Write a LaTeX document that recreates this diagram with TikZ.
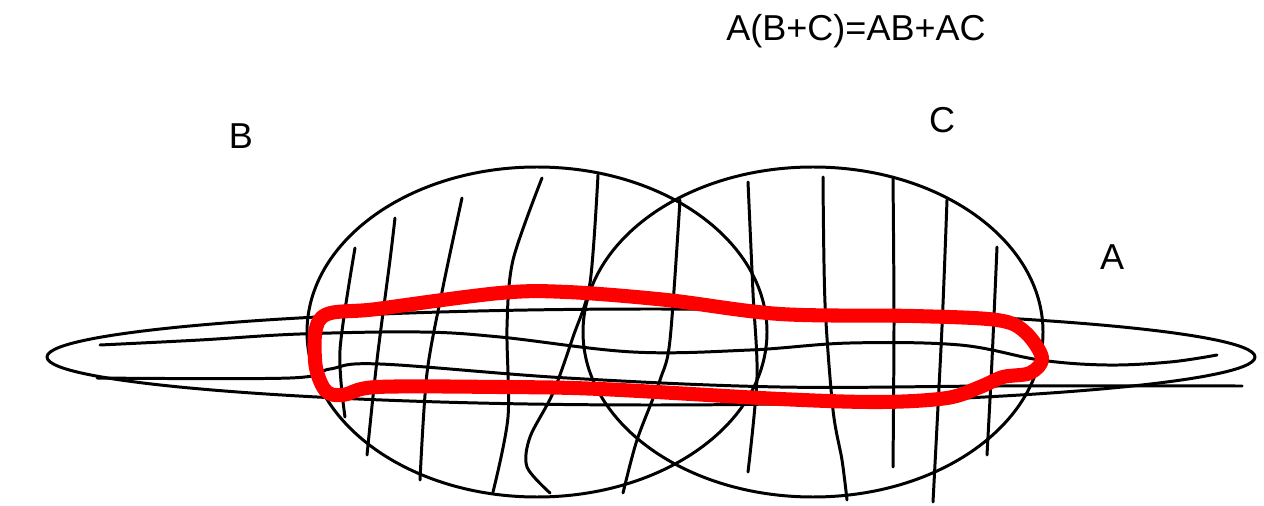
\documentclass[tikz,border=0pt]{standalone}
\usepackage{fontspec}
\setmainfont{Liberation Sans}
\begin{document}
\begin{tikzpicture}[x=0.02cm,y=-0.02cm,
  ink/.style={black,line width=1.7pt,line cap=round,line join=round},
  redloop/.style={red,line width=8pt,line join=round},
  lbl/.style={font=\fontsize{20.5}{24}\selectfont,inner sep=0pt}]
\useasboundingbox (0,0) rectangle (1264,506);
% ellipses
\draw[ink] (537,332) ellipse [x radius=230,y radius=165];
\draw[ink] (813,332) ellipse [x radius=230,y radius=165];
\draw[ink] (651,357) ellipse [x radius=604,y radius=48];
% horizontal lines
\draw[ink] plot[smooth,tension=0.6] coordinates {(100,345) (200,340) (300,334) (420,332) (500,337) (633,352) (750,350) (850,343) (960,345) (1040,360) (1107,365) (1170,362) (1217,355)};
\draw[ink] plot[smooth,tension=0.6] coordinates {(97,378) (290,378) (330,369) (380,364) (567,378) (780,387) (1000,386) (1242,386)};
% hatching in B
\draw[ink] plot[smooth] coordinates {(355,248) (340,350) (345,417)};
\draw[ink] plot[smooth] coordinates {(395,218) (390,260) (377,360) (367,455)};
\draw[ink] plot[smooth] coordinates {(462,198) (443,287) (427,373) (420,480)};
\draw[ink] plot[smooth] coordinates {(542,178) (513,260) (507,327) (508,417) (493,492)};
\draw[ink] plot[smooth] coordinates {(598,175) (590,283) (573,337) (553,393) (530,437) (527,467) (550,493)};
\draw[ink] plot[smooth] coordinates {(680,200) (670,340) (660,380) (637,440) (623,493)};
% hatching in C
\draw[ink] plot[smooth] coordinates {(748,182) (753,293) (757,377) (748,472)};
\draw[ink] plot[smooth] coordinates {(823,177) (825,303) (833,410) (842,460) (847,500)};
\draw[ink] plot[smooth] coordinates {(893,177) (894,320) (893,467)};
\draw[ink] plot[smooth] coordinates {(947,200) (942,327) (933,502)};
\draw[ink] plot[smooth] coordinates {(997,247) (992,360) (987,455)};
% red loop (AB + AC)
\draw[redloop] plot[smooth cycle,tension=0.55] coordinates {(322,317) (377,309) (500,293) (567,292) (667,300) (780,314) (913,316) (997,320) (1025,332) (1042,358) (1030,373) (1003,377) (980,387) (947,398) (880,402) (780,399) (600,389) (500,387) (377,387) (343,395) (325,390) (315,360)};
% labels
\node[lbl] (title) at (856,31) {A(B+C)=AB+AC};
\node[lbl] (labB) at (241,136) {B};
\node[lbl] (labC) at (942,120) {C};
\node[lbl] (labA) at (1112,257) {A};
\end{tikzpicture}
\end{document}
